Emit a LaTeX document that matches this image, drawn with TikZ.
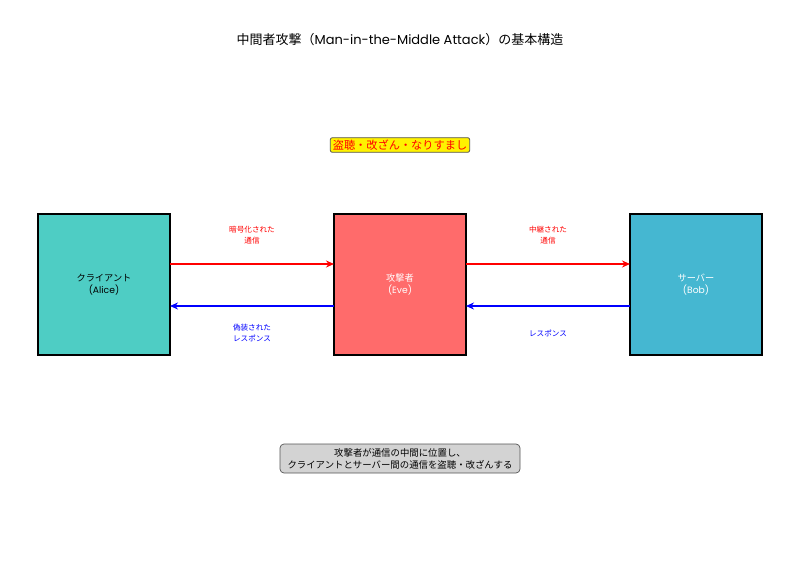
\documentclass[tikz,border=0pt]{standalone}
\usepackage{fontspec}
\setmainfont{Noto Sans CJK JP}
\newfontfamily\lat{Poppins}
\usetikzlibrary{arrows.meta}
\definecolor{alicec}{HTML}{4ECDC4}
\definecolor{evec}{HTML}{FF6B6B}
\definecolor{bobc}{HTML}{45B7D1}
\definecolor{notec}{HTML}{D3D3D3}
\definecolor{edgegray}{HTML}{555555}
\tikzset{
  party/.style={draw=black, line width=1.3pt, minimum width=132pt, minimum height=141pt, inner sep=0pt, align=center, font=\fontsize{9.2}{12}\selectfont},
  flow/.style={line width=2pt, -{Stealth[length=8pt,width=7pt]}},
  flowlabel/.style={align=center, font=\fontsize{7.6}{10.5}\selectfont},
}
\begin{document}
\begin{tikzpicture}[x=1pt,y=-1pt]
\useasboundingbox (0,0) rectangle (800,570);
\node (title) at (400,40) {\fontsize{13}{15}\selectfont 中間者攻撃（{\lat Man-in-the-Middle Attack}）の基本構造};
\node[fill=yellow, draw=edgegray, rounded corners=2pt, line width=0.8pt, text=red, inner xsep=2.5pt, inner ysep=2pt, font=\fontsize{11.2}{13}\selectfont] (tag) at (400,145) {盗聴・改ざん・なりすまし};
\node[party, fill=alicec] (alice) at (104,284.5) {クライアント\\{\lat (Alice)}};
\node[party, fill=evec, text=white] (eve) at (400,284.5) {攻撃者\\{\lat (Eve)}};
\node[party, fill=bobc, text=white] (bob) at (696,284.5) {サーバー\\{\lat (Bob)}};
\coordinate (a1) at (170,264); \coordinate (e1) at (334,264);
\coordinate (e2) at (334,306); \coordinate (a2) at (170,306);
\coordinate (e3) at (466,264); \coordinate (b3) at (630,264);
\coordinate (b4) at (630,306); \coordinate (e4) at (466,306);
\draw[flow, red] (a1) -- (e1);
\draw[flow, blue] (e2) -- (a2);
\draw[flow, red] (e3) -- (b3);
\draw[flow, blue] (b4) -- (e4);
\node[flowlabel, text=red] (l1) at (252,235) {暗号化された\\通信};
\node[flowlabel, text=blue] (l2) at (252,333) {偽装された\\レスポンス};
\node[flowlabel, text=red] (l3) at (548,235) {中継された\\通信};
\node[flowlabel, text=blue] (l4) at (548,333) {レスポンス};
\node[fill=notec, draw=edgegray, rounded corners=4pt, line width=0.7pt, align=center, minimum width=240pt, minimum height=29pt, inner sep=1pt, font=\fontsize{9.4}{12}\selectfont] (note) at (400,458.5) {攻撃者が通信の中間に位置し、\\クライアントとサーバー間の通信を盗聴・改ざんする};
\end{tikzpicture}
\end{document}
